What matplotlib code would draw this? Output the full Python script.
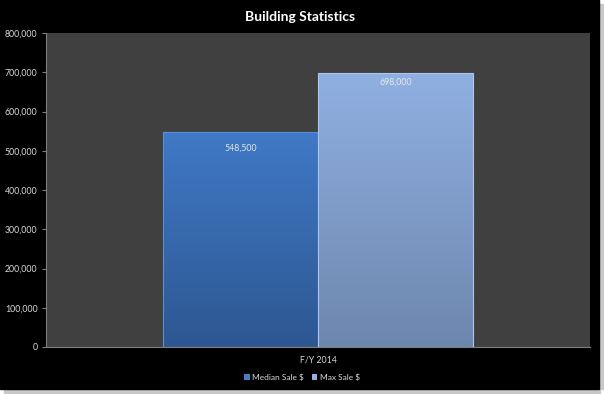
import numpy as np
import matplotlib.pyplot as plt
from matplotlib.patches import Rectangle
from matplotlib.ticker import FuncFormatter
from matplotlib.colors import LinearSegmentedColormap

category = ['F/Y 2014']
series = ['Median Sale $', 'Max Sale $']
values = [548500, 698000]
top_colors = ['#4079c6', '#90b0e2']
bottom_colors = ['#2d5791', '#6d86ad']
edge_colors = ['#5a8fd6', '#adc6ee']

plt.rcParams['font.family'] = ['Lato', 'DejaVu Sans']

W, H = 604, 394
fig = plt.figure(figsize=(W / 100, H / 100), dpi=100, facecolor='white')

# black chart background with a grey drop shadow on right / bottom
fig.patches.append(Rectangle((4 / W, 0), 596 / W, 5 / H, transform=fig.transFigure,
                             color='#c8c8c8', zorder=-3))
fig.patches.append(Rectangle((599 / W, 5 / H), 5 / W, 385 / H, transform=fig.transFigure,
                             color='#c8c8c8', zorder=-3))
fig.patches.append(Rectangle((0, 5 / H), 599 / W, 389 / H, transform=fig.transFigure,
                             color='black', zorder=-2))

ax = fig.add_axes([46 / W, 1 - 347 / H, 544 / W, 314 / H])
ax.set_facecolor('#404040')

width = 0.285
label_offsets = [41000, 23000]  # how far below the bar top the value label sits
for i, (name, v) in enumerate(zip(series, values)):
    xpos = (i - 0.5) * width
    bar = ax.bar(xpos, v, width, fill=False, edgecolor=edge_colors[i],
                 linewidth=0.8, zorder=3)[0]
    cmap = LinearSegmentedColormap.from_list('g%d' % i, [bottom_colors[i], top_colors[i]])
    grad = np.linspace(0, 1, 256).reshape(-1, 1)
    im = ax.imshow(grad, cmap=cmap, origin='lower', aspect='auto',
                   extent=[xpos - width / 2, xpos + width / 2, 0, v], zorder=2)
    im.set_clip_path(bar)
    ax.text(xpos, v - label_offsets[i], f'{v:,}', ha='center', va='center',
            color='#e8e8e8', fontsize=6.3, zorder=4)

ax.set_xlim(-0.5, 0.5)
ax.set_ylim(0, 800000)
ax.set_yticks(np.arange(0, 800001, 100000))
ax.yaxis.set_major_formatter(FuncFormatter(lambda y, p: f'{int(y):,}'))
ax.set_xticks([0])
ax.set_xticklabels(category)
ax.tick_params(axis='y', colors='#7f7f7f', labelcolor='#d9d9d9', labelsize=6.3,
               length=3, width=0.8, pad=3)
ax.tick_params(axis='x', colors='#7f7f7f', labelcolor='#d9d9d9', labelsize=6.3,
               length=0, pad=6)
for s in ['top', 'right']:
    ax.spines[s].set_visible(False)
for s in ['left', 'bottom']:
    ax.spines[s].set_color('#7f7f7f')
    ax.spines[s].set_linewidth(0.8)

fig.text(300 / W, 1 - 17 / H, 'Building Statistics', ha='center', va='center',
         color='white', fontsize=10, fontweight='bold')

handles = [Rectangle((0, 0), 1, 1, facecolor=top_colors[i], edgecolor=edge_colors[i],
                     linewidth=0.6) for i in range(2)]
fig.legend(handles, series, loc='center', bbox_to_anchor=(302 / W, 1 - 377 / H),
           ncol=2, frameon=False, fontsize=6, labelcolor='#d9d9d9',
           handlelength=0.5, handleheight=0.5, handletextpad=0.4, columnspacing=1.0)

fig.savefig('out.png', dpi=100, facecolor=fig.get_facecolor())
